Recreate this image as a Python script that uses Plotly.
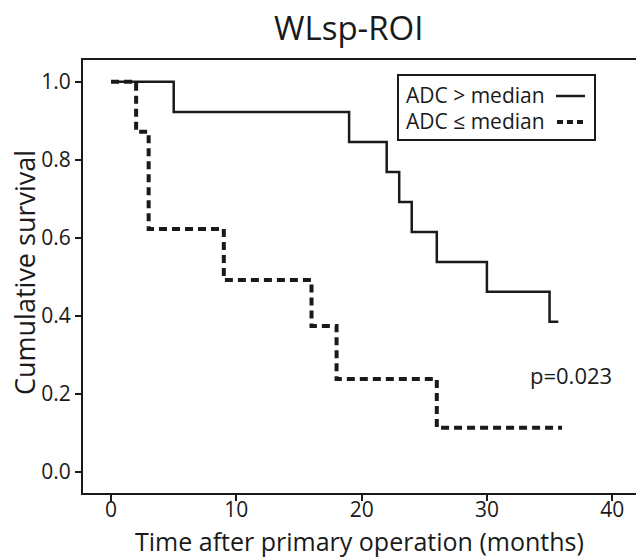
import plotly.graph_objects as go

# ---- data ----
high_months = [0, 5, 19, 22, 23, 24, 26, 30, 35, 35.7]
high_surv = [1.0, 0.923, 0.846, 0.769, 0.692, 0.615, 0.538, 0.462, 0.385, 0.385]

low_months = [0, 2, 3, 9, 16, 18, 26, 36]
low_surv = [1.0, 0.872, 0.623, 0.492, 0.374, 0.238, 0.113, 0.113]

x_ticks = [0, 10, 20, 30, 40]
y_ticks = [0.0, 0.2, 0.4, 0.6, 0.8, 1.0]
legend_labels = ["ADC > median", "ADC \u2264 median"]
p_text = "p=0.023"
title_text = "WLsp-ROI"
x_title = "Time after primary operation (months)"
y_title = "Cumulative survival"

# ---- layout geometry (page pixels; body margin removed by post_script) ----
W, H = 636, 557
L, R, T, B = 83, 0, 60, 64
FONT = "Open Sans"
INK = "#1a1a1a"


def px(x):
    return (x - L) / (W - L - R)


def py(y):
    return (H - B - y) / (H - T - B)


fig = go.Figure()
fig.add_trace(go.Scatter(x=high_months, y=high_surv, mode="lines",
                         line=dict(shape="hv", color=INK, width=2.5),
                         showlegend=False, hoverinfo="skip"))
fig.add_trace(go.Scatter(x=low_months, y=low_surv, mode="lines",
                         line=dict(shape="hv", color=INK, width=4, dash="8px,5px"),
                         showlegend=False, hoverinfo="skip"))

fig.update_layout(
    width=W, height=H,
    margin=dict(l=L, r=R, t=T, b=B, autoexpand=False),
    plot_bgcolor="white", paper_bgcolor="white",
    font=dict(family=FONT, color=INK),
    xaxis=dict(range=[-2.24, 41.9], tickvals=x_ticks, ticks="outside",
               ticklen=6, tickwidth=2, tickcolor=INK, ticklabelstandoff=-9,
               showline=True, linecolor=INK, linewidth=2, mirror=True,
               showgrid=False, zeroline=False,
               tickfont=dict(size=21, family=FONT, color=INK)),
    yaxis=dict(range=[-0.054, 1.056], tickvals=y_ticks, tickformat=".1f",
               ticks="outside", ticklen=6, tickwidth=2, tickcolor=INK,
               showline=True, linecolor=INK, linewidth=2, mirror=False,
               showgrid=False, zeroline=False,
               tickfont=dict(size=21, family=FONT, color=INK)),
)

# title and axis titles
fig.add_annotation(x=px(348), y=py(27), xref="paper", yref="paper", text=title_text,
                   showarrow=False, xanchor="center", yanchor="middle",
                   font=dict(size=33, family=FONT, color=INK))
fig.add_annotation(x=px(359), y=py(541), xref="paper", yref="paper", text=x_title,
                   showarrow=False, xanchor="center", yanchor="middle",
                   font=dict(size=25, family=FONT, color=INK))
fig.add_annotation(x=px(24), y=py(273), xref="paper", yref="paper", text=y_title,
                   showarrow=False, xanchor="center", yanchor="middle", textangle=-90,
                   font=dict(size=27, family=FONT, color=INK))

# p-value
fig.add_annotation(x=33.3, y=0.249, xref="x", yref="y", text=p_text,
                   showarrow=False, xanchor="left", yanchor="middle",
                   font=dict(size=22, family=FONT, color=INK))

# manual legend (symbols to the right of labels)
fig.add_shape(type="rect", xref="paper", yref="paper",
              x0=px(398), x1=px(595), y0=py(140), y1=py(75),
              line=dict(color=INK, width=2), fillcolor="white", layer="above")
for i, lab in enumerate(legend_labels):
    yc = 95 + i * 26
    fig.add_annotation(x=px(404), y=py(yc), xref="paper", yref="paper",
                       text=lab, showarrow=False, xanchor="left", yanchor="middle",
                       font=dict(size=21, family=FONT, color=INK))
fig.add_shape(type="line", xref="paper", yref="paper",
              x0=px(556), x1=px(585), y0=py(96), y1=py(96),
              line=dict(color=INK, width=2.5), layer="above")
fig.add_shape(type="line", xref="paper", yref="paper",
              x0=px(557), x1=px(585), y0=py(122), y1=py(122),
              line=dict(color=INK, width=4, dash="6px,4px"), layer="above")

fig.write_html("out.html",
               config={"displayModeBar": False, "staticPlot": True},
               post_script="document.body.style.margin='0';"
                           "document.documentElement.style.overflow='hidden';")
